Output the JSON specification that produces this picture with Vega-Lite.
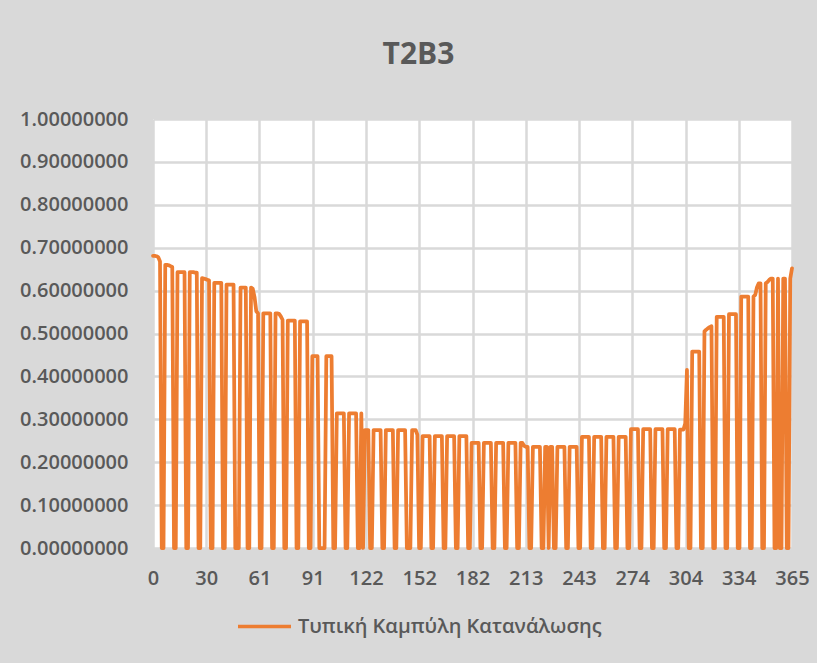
{
  "$schema": "https://vega.github.io/schema/vega-lite/v6.json",
  "width": 639,
  "height": 429,
  "autosize": {"type": "none"},
  "padding": {"left": 153, "top": 119, "right": 25, "bottom": 115},
  "background": "#d9d9d9",
  "config": {
    "view": {"fill": "white", "stroke": null},
    "font": "Open Sans"
  },
  "title": {
    "text": "T2B3",
    "fontSize": 30,
    "fontWeight": "bold",
    "color": "#595959",
    "font": "Open Sans",
    "anchor": "middle",
    "baseline": "alphabetic",
    "offset": 15,
    "dx": -54
  },
  "data": {
    "values": [
      {"d":0,"v":0.681},{"d":1,"v":0.681},{"d":2,"v":0.680},{"d":3,"v":0.678},{"d":4,"v":0.668},{"d":5,"v":0},{"d":6,"v":0},
      {"d":7,"v":0.660},{"d":8,"v":0.660},{"d":9,"v":0.659},{"d":10,"v":0.657},{"d":11,"v":0.655},{"d":12,"v":0},{"d":13,"v":0},
      {"d":14,"v":0.643},{"d":15,"v":0.643},{"d":16,"v":0.643},{"d":17,"v":0.643},{"d":18,"v":0.643},{"d":19,"v":0},{"d":20,"v":0},
      {"d":21,"v":0.643},{"d":22,"v":0.643},{"d":23,"v":0.643},{"d":24,"v":0.642},{"d":25,"v":0.642},{"d":26,"v":0},{"d":27,"v":0},
      {"d":28,"v":0.629},{"d":29,"v":0.628},{"d":30,"v":0.627},{"d":31,"v":0.625},{"d":32,"v":0.624},{"d":33,"v":0},{"d":34,"v":0},
      {"d":35,"v":0.618},{"d":36,"v":0.618},{"d":37,"v":0.618},{"d":38,"v":0.618},{"d":39,"v":0.618},{"d":40,"v":0},{"d":41,"v":0},
      {"d":42,"v":0.614},{"d":43,"v":0.614},{"d":44,"v":0.614},{"d":45,"v":0.614},{"d":46,"v":0.614},{"d":47,"v":0},{"d":48,"v":0},
      {"d":49,"v":0},{"d":50,"v":0.607},{"d":51,"v":0.607},{"d":52,"v":0.607},{"d":53,"v":0.607},{"d":54,"v":0},{"d":55,"v":0},
      {"d":56,"v":0.607},{"d":57,"v":0.604},{"d":58,"v":0.585},{"d":59,"v":0.552},{"d":60,"v":0.547},{"d":61,"v":0},{"d":62,"v":0},
      {"d":63,"v":0.547},{"d":64,"v":0.547},{"d":65,"v":0.547},{"d":66,"v":0.547},{"d":67,"v":0.547},{"d":68,"v":0},{"d":69,"v":0},
      {"d":70,"v":0.547},{"d":71,"v":0.547},{"d":72,"v":0.546},{"d":73,"v":0.540},{"d":74,"v":0.532},{"d":75,"v":0},{"d":76,"v":0},
      {"d":77,"v":0.530},{"d":78,"v":0.530},{"d":79,"v":0.530},{"d":80,"v":0.530},{"d":81,"v":0.530},{"d":82,"v":0},{"d":83,"v":0},
      {"d":84,"v":0.528},{"d":85,"v":0.528},{"d":86,"v":0.528},{"d":87,"v":0.528},{"d":88,"v":0.528},{"d":89,"v":0},{"d":90,"v":0},
      {"d":91,"v":0.447},{"d":92,"v":0.447},{"d":93,"v":0.447},{"d":94,"v":0.447},{"d":95,"v":0},{"d":96,"v":0},{"d":97,"v":0},
      {"d":98,"v":0},{"d":99,"v":0.447},{"d":100,"v":0.447},{"d":101,"v":0.447},{"d":102,"v":0.447},{"d":103,"v":0},{"d":104,"v":0},
      {"d":105,"v":0.314},{"d":106,"v":0.314},{"d":107,"v":0.314},{"d":108,"v":0.314},{"d":109,"v":0.314},{"d":110,"v":0},{"d":111,"v":0},
      {"d":112,"v":0.314},{"d":113,"v":0.314},{"d":114,"v":0.314},{"d":115,"v":0.314},{"d":116,"v":0.314},{"d":117,"v":0},{"d":118,"v":0},
      {"d":119,"v":0.314},{"d":120,"v":0},{"d":121,"v":0.275},{"d":122,"v":0.275},{"d":123,"v":0.275},{"d":124,"v":0},{"d":125,"v":0},
      {"d":126,"v":0.275},{"d":127,"v":0.275},{"d":128,"v":0.275},{"d":129,"v":0.275},{"d":130,"v":0.275},{"d":131,"v":0},{"d":132,"v":0},
      {"d":133,"v":0.275},{"d":134,"v":0.275},{"d":135,"v":0.275},{"d":136,"v":0.275},{"d":137,"v":0.275},{"d":138,"v":0},{"d":139,"v":0},
      {"d":140,"v":0.275},{"d":141,"v":0.275},{"d":142,"v":0.275},{"d":143,"v":0.275},{"d":144,"v":0.275},{"d":145,"v":0},{"d":146,"v":0},
      {"d":147,"v":0},{"d":148,"v":0.275},{"d":149,"v":0.275},{"d":150,"v":0.275},{"d":151,"v":0.264},{"d":152,"v":0},{"d":153,"v":0},
      {"d":154,"v":0.261},{"d":155,"v":0.261},{"d":156,"v":0.261},{"d":157,"v":0.261},{"d":158,"v":0.261},{"d":159,"v":0},{"d":160,"v":0},
      {"d":161,"v":0.261},{"d":162,"v":0.261},{"d":163,"v":0.261},{"d":164,"v":0.261},{"d":165,"v":0.261},{"d":166,"v":0},{"d":167,"v":0},
      {"d":168,"v":0.261},{"d":169,"v":0.261},{"d":170,"v":0.261},{"d":171,"v":0.261},{"d":172,"v":0.261},{"d":173,"v":0},{"d":174,"v":0},
      {"d":175,"v":0.261},{"d":176,"v":0.261},{"d":177,"v":0.261},{"d":178,"v":0.261},{"d":179,"v":0.261},{"d":180,"v":0},{"d":181,"v":0},
      {"d":182,"v":0.245},{"d":183,"v":0.245},{"d":184,"v":0.245},{"d":185,"v":0.245},{"d":186,"v":0.245},{"d":187,"v":0},{"d":188,"v":0},
      {"d":189,"v":0.245},{"d":190,"v":0.245},{"d":191,"v":0.245},{"d":192,"v":0.245},{"d":193,"v":0.245},{"d":194,"v":0},{"d":195,"v":0},
      {"d":196,"v":0.245},{"d":197,"v":0.245},{"d":198,"v":0.245},{"d":199,"v":0.245},{"d":200,"v":0.245},{"d":201,"v":0},{"d":202,"v":0},
      {"d":203,"v":0.245},{"d":204,"v":0.245},{"d":205,"v":0.245},{"d":206,"v":0.245},{"d":207,"v":0.245},{"d":208,"v":0},{"d":209,"v":0},
      {"d":210,"v":0.245},{"d":211,"v":0.245},{"d":212,"v":0.238},{"d":213,"v":0.236},{"d":214,"v":0.236},{"d":215,"v":0},{"d":216,"v":0},
      {"d":217,"v":0.236},{"d":218,"v":0.236},{"d":219,"v":0.236},{"d":220,"v":0.236},{"d":221,"v":0.236},{"d":222,"v":0},{"d":223,"v":0},
      {"d":224,"v":0.236},{"d":225,"v":0.236},{"d":226,"v":0},{"d":227,"v":0.236},{"d":228,"v":0.236},{"d":229,"v":0},{"d":230,"v":0},
      {"d":231,"v":0.236},{"d":232,"v":0.236},{"d":233,"v":0.236},{"d":234,"v":0.236},{"d":235,"v":0.236},{"d":236,"v":0},{"d":237,"v":0},
      {"d":238,"v":0.236},{"d":239,"v":0.236},{"d":240,"v":0.236},{"d":241,"v":0.236},{"d":242,"v":0.236},{"d":243,"v":0},{"d":244,"v":0},
      {"d":245,"v":0.259},{"d":246,"v":0.259},{"d":247,"v":0.259},{"d":248,"v":0.259},{"d":249,"v":0.259},{"d":250,"v":0},{"d":251,"v":0},
      {"d":252,"v":0.259},{"d":253,"v":0.259},{"d":254,"v":0.259},{"d":255,"v":0.259},{"d":256,"v":0.259},{"d":257,"v":0},{"d":258,"v":0},
      {"d":259,"v":0.259},{"d":260,"v":0.259},{"d":261,"v":0.259},{"d":262,"v":0.259},{"d":263,"v":0.259},{"d":264,"v":0},{"d":265,"v":0},
      {"d":266,"v":0.259},{"d":267,"v":0.259},{"d":268,"v":0.259},{"d":269,"v":0.259},{"d":270,"v":0.259},{"d":271,"v":0},{"d":272,"v":0},
      {"d":273,"v":0.277},{"d":274,"v":0.277},{"d":275,"v":0.277},{"d":276,"v":0.277},{"d":277,"v":0.277},{"d":278,"v":0},{"d":279,"v":0},
      {"d":280,"v":0.277},{"d":281,"v":0.277},{"d":282,"v":0.277},{"d":283,"v":0.277},{"d":284,"v":0.277},{"d":285,"v":0},{"d":286,"v":0},
      {"d":287,"v":0.277},{"d":288,"v":0.277},{"d":289,"v":0.277},{"d":290,"v":0.277},{"d":291,"v":0.277},{"d":292,"v":0},{"d":293,"v":0},
      {"d":294,"v":0.277},{"d":295,"v":0.277},{"d":296,"v":0.277},{"d":297,"v":0.277},{"d":298,"v":0.277},{"d":299,"v":0},{"d":300,"v":0},
      {"d":301,"v":0.276},{"d":302,"v":0.276},{"d":303,"v":0.276},{"d":304,"v":0.29},{"d":305,"v":0.415},{"d":306,"v":0},{"d":307,"v":0},
      {"d":308,"v":0.458},{"d":309,"v":0.458},{"d":310,"v":0.458},{"d":311,"v":0.458},{"d":312,"v":0.458},{"d":313,"v":0},{"d":314,"v":0},
      {"d":315,"v":0.505},{"d":316,"v":0.509},{"d":317,"v":0.512},{"d":318,"v":0.515},{"d":319,"v":0.517},{"d":320,"v":0},{"d":321,"v":0},
      {"d":322,"v":0.539},{"d":323,"v":0.539},{"d":324,"v":0.539},{"d":325,"v":0.539},{"d":326,"v":0.539},{"d":327,"v":0},{"d":328,"v":0},
      {"d":329,"v":0.545},{"d":330,"v":0.545},{"d":331,"v":0.545},{"d":332,"v":0.545},{"d":333,"v":0.545},{"d":334,"v":0},{"d":335,"v":0},
      {"d":336,"v":0.586},{"d":337,"v":0.586},{"d":338,"v":0.586},{"d":339,"v":0.586},{"d":340,"v":0.586},{"d":341,"v":0},{"d":342,"v":0},
      {"d":343,"v":0.586},{"d":344,"v":0.590},{"d":345,"v":0.608},{"d":346,"v":0.617},{"d":347,"v":0.617},{"d":348,"v":0},{"d":349,"v":0},
      {"d":350,"v":0.617},{"d":351,"v":0.620},{"d":352,"v":0.625},{"d":353,"v":0.628},{"d":354,"v":0.628},{"d":355,"v":0},{"d":356,"v":0},
      {"d":357,"v":0.628},{"d":358,"v":0},{"d":359,"v":0},{"d":360,"v":0.628},{"d":361,"v":0.628},{"d":362,"v":0},{"d":363,"v":0},
      {"d":364,"v":0.628},{"d":365,"v":0.652}
    ]
  },
  "mark": {"type": "line", "strokeWidth": 3.75, "strokeJoin": "round", "strokeCap": "round", "interpolate": "linear"},
  "encoding": {
    "x": {
      "field": "d",
      "type": "quantitative",
      "scale": {"domain": [0, 365], "nice": false, "zero": false},
      "axis": {
        "title": null,
        "values": [0, 30.4166667, 60.8333333, 91.25, 121.6666667, 152.0833333, 182.5, 212.9166667, 243.3333333, 273.75, 304.1666667, 334.5833333, 365],
        "labelExpr": "['0','30','61','91','122','152','182','213','243','274','304','334','365'][round(datum.value*12/365)]",
        "ticks": false,
        "domain": false,
        "grid": true,
        "gridColor": "#d9d9d9",
        "gridWidth": 2.5,
        "labelFont": "Open Sans",
        "labelFontSize": 20,
        "labelFontWeight": 600,
        "labelColor": "#595959",
        "labelPadding": 20,
        "labelFlush": false,
        "labelOverlap": false
      }
    },
    "y": {
      "field": "v",
      "type": "quantitative",
      "scale": {"domain": [0, 1], "nice": false},
      "axis": {
        "title": null,
        "values": [0, 0.1, 0.2, 0.3, 0.4, 0.5, 0.6, 0.7, 0.8, 0.9, 1.0],
        "format": ".8f",
        "ticks": false,
        "domain": false,
        "grid": true,
        "gridColor": "#d9d9d9",
        "gridWidth": 2.5,
        "labelFont": "Open Sans",
        "labelFontSize": 20,
        "labelFontWeight": 600,
        "labelColor": "#595959",
        "labelPadding": 25,
        "labelOverlap": false
      }
    },
    "color": {
      "datum": "Τυπική Καμπύλη Κατανάλωσης",
      "type": "nominal",
      "scale": {"range": ["#ED7D31"]},
      "legend": {
        "title": null,
        "orient": "none",
        "legendX": 83,
        "legendY": 479,
        "symbolType": "stroke",
        "symbolSize": 2809,
        "symbolStrokeWidth": 3.5,
        "labelFont": "Open Sans",
        "labelFontSize": 20,
        "labelFontWeight": 600,
        "labelColor": "#595959",
        "labelOffset": 5,
        "labelLimit": 600,
        "padding": 0
      }
    }
  }
}
